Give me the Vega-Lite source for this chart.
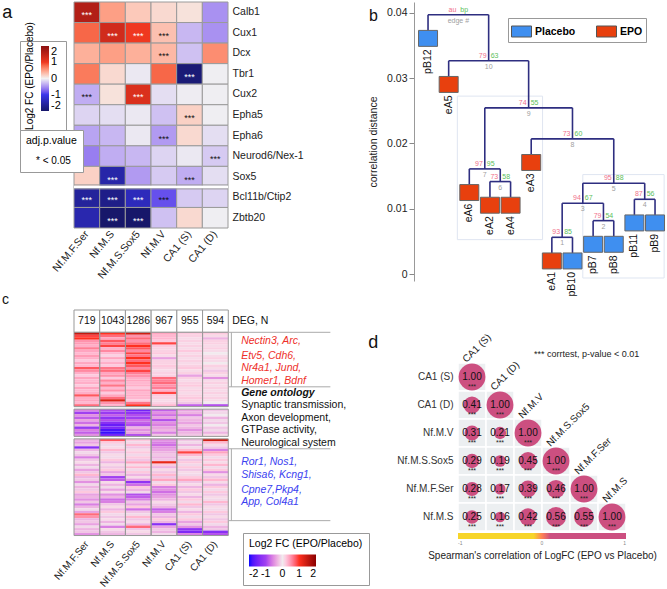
{
"$schema":"https://vega.github.io/schema/vega-lite/v6.json",
"padding":{"left":2,"top":1,"right":0,"bottom":0},
"columns":2,"align":"each","bounds":"flush","spacing":{"row":29,"column":142},
"resolve":{"scale":{"color":"independent","fill":"independent","shape":"independent","size":"independent"}},
"config":{"font":"Liberation Sans","view":{"stroke":null},"title":{"fontWeight":"normal","color":"#111"}},
"datasets":{
"aCells":[
{"g":"Calb1","c":"Nf.M.F.Ser","v":1.6,"p":"* < 0.05"},{"g":"Calb1","c":"Nf.M.S","v":0.5},{"g":"Calb1","c":"Nf.M.S.Sox5","v":0.25},{"g":"Calb1","c":"Nf.M.V","v":0.15},{"g":"Calb1","c":"CA1 (S)","v":0.1},{"g":"Calb1","c":"CA1 (D)","v":-0.5},
{"g":"Cux1","c":"Nf.M.F.Ser","v":0.8},{"g":"Cux1","c":"Nf.M.S","v":1.3,"p":"* < 0.05"},{"g":"Cux1","c":"Nf.M.S.Sox5","v":1.0,"p":"* < 0.05"},{"g":"Cux1","c":"Nf.M.V","v":0.3,"p":"* < 0.05"},{"g":"Cux1","c":"CA1 (S)","v":-0.3},{"g":"Cux1","c":"CA1 (D)","v":-0.5},
{"g":"Dcx","c":"Nf.M.F.Ser","v":0.4},{"g":"Dcx","c":"Nf.M.S","v":0.5},{"g":"Dcx","c":"Nf.M.S.Sox5","v":0.4},{"g":"Dcx","c":"Nf.M.V","v":0.35,"p":"* < 0.05"},{"g":"Dcx","c":"CA1 (S)","v":-0.25},{"g":"Dcx","c":"CA1 (D)","v":0.6},
{"g":"Tbr1","c":"Nf.M.F.Ser","v":0.7},{"g":"Tbr1","c":"Nf.M.S","v":0.15},{"g":"Tbr1","c":"Nf.M.S.Sox5","v":-0.05},{"g":"Tbr1","c":"Nf.M.V","v":0.8},{"g":"Tbr1","c":"CA1 (S)","v":-1.9,"p":"* < 0.05"},{"g":"Tbr1","c":"CA1 (D)","v":-0.02},
{"g":"Cux2","c":"Nf.M.F.Ser","v":-0.35,"p":"* < 0.05"},{"g":"Cux2","c":"Nf.M.S","v":0.1},{"g":"Cux2","c":"Nf.M.S.Sox5","v":1.2,"p":"* < 0.05"},{"g":"Cux2","c":"Nf.M.V","v":-0.1},{"g":"Cux2","c":"CA1 (S)","v":-0.03},{"g":"Cux2","c":"CA1 (D)","v":-0.02},
{"g":"Epha5","c":"Nf.M.F.Ser","v":-0.15},{"g":"Epha5","c":"Nf.M.S","v":-0.1},{"g":"Epha5","c":"Nf.M.S.Sox5","v":-0.05},{"g":"Epha5","c":"Nf.M.V","v":-0.25},{"g":"Epha5","c":"CA1 (S)","v":0.2,"p":"* < 0.05"},{"g":"Epha5","c":"CA1 (D)","v":-0.02},
{"g":"Epha6","c":"Nf.M.F.Ser","v":-0.4},{"g":"Epha6","c":"Nf.M.S","v":-0.3},{"g":"Epha6","c":"Nf.M.S.Sox5","v":-0.05},{"g":"Epha6","c":"Nf.M.V","v":-0.45,"p":"* < 0.05"},{"g":"Epha6","c":"CA1 (S)","v":0.15},{"g":"Epha6","c":"CA1 (D)","v":-0.1},
{"g":"Neurod6/Nex-1","c":"Nf.M.F.Ser","v":-0.6},{"g":"Neurod6/Nex-1","c":"Nf.M.S","v":-0.35},{"g":"Neurod6/Nex-1","c":"Nf.M.S.Sox5","v":-0.3},{"g":"Neurod6/Nex-1","c":"Nf.M.V","v":-0.15},{"g":"Neurod6/Nex-1","c":"CA1 (S)","v":-0.05},{"g":"Neurod6/Nex-1","c":"CA1 (D)","v":-0.2,"p":"* < 0.05"},
{"g":"Sox5","c":"Nf.M.F.Ser","v":0.2},{"g":"Sox5","c":"Nf.M.S","v":-1.5,"p":"* < 0.05"},{"g":"Sox5","c":"Nf.M.S.Sox5","v":-0.45},{"g":"Sox5","c":"Nf.M.V","v":-0.2},{"g":"Sox5","c":"CA1 (S)","v":-0.35,"p":"* < 0.05"},{"g":"Sox5","c":"CA1 (D)","v":-0.1},
{"g":"Bcl11b/Ctip2","c":"Nf.M.F.Ser","v":-1.6,"p":"* < 0.05"},{"g":"Bcl11b/Ctip2","c":"Nf.M.S","v":-1.75,"p":"* < 0.05"},{"g":"Bcl11b/Ctip2","c":"Nf.M.S.Sox5","v":-1.35,"p":"* < 0.05"},{"g":"Bcl11b/Ctip2","c":"Nf.M.V","v":-0.85,"p":"* < 0.05"},{"g":"Bcl11b/Ctip2","c":"CA1 (S)","v":-0.2},{"g":"Bcl11b/Ctip2","c":"CA1 (D)","v":-0.15},
{"g":"Zbtb20","c":"Nf.M.F.Ser","v":-1.45},{"g":"Zbtb20","c":"Nf.M.S","v":-2.1,"p":"* < 0.05"},{"g":"Zbtb20","c":"Nf.M.S.Sox5","v":-2.4,"p":"* < 0.05"},{"g":"Zbtb20","c":"Nf.M.V","v":-0.25},{"g":"Zbtb20","c":"CA1 (S)","v":0.15},{"g":"Zbtb20","c":"CA1 (D)","v":-0.02}
],
"cols":[{"k":1,"name":"Nf.M.F.Ser","deg":719},{"k":2,"name":"Nf.M.S","deg":1043},{"k":3,"name":"Nf.M.S.Sox5","deg":1286},{"k":4,"name":"Nf.M.V","deg":967},{"k":5,"name":"CA1 (S)","deg":955},{"k":6,"name":"CA1 (D)","deg":594}],
"outl":[
{"c":1,"r":"b01","r2":"b31"},{"c":2,"r":"b01","r2":"b31"},{"c":3,"r":"b01","r2":"b31"},{"c":4,"r":"b01","r2":"b31"},{"c":5,"r":"b01","r2":"b31"},{"c":6,"r":"b01","r2":"b31"},
{"c":1,"r":"b32","r2":"b43"},{"c":2,"r":"b32","r2":"b43"},{"c":3,"r":"b32","r2":"b43"},{"c":4,"r":"b32","r2":"b43"},{"c":5,"r":"b32","r2":"b43"},{"c":6,"r":"b32","r2":"b43"},
{"c":1,"r":"b44","r2":"b83"},{"c":2,"r":"b44","r2":"b83"},{"c":3,"r":"b44","r2":"b83"},{"c":4,"r":"b44","r2":"b83"},{"c":5,"r":"b44","r2":"b83"},{"c":6,"r":"b44","r2":"b83"}
],
"ann":[
{"r":"b04","t":"Nectin3, Arc,","k":"up"},{"r":"b10","t":"Etv5, Cdh6,","k":"up"},{"r":"b15","t":"Nr4a1, Jund,","k":"up"},{"r":"b20","t":"Homer1, Bdnf","k":"up"},
{"r":"b25","t":"Gene ontology","k":"go"},
{"r":"b30","t":"Synaptic transmission,","k":"term"},{"r":"b35","t":"Axon development,","k":"term"},{"r":"b40","t":"GTPase activity,","k":"term"},{"r":"b45","t":"Neurological system","k":"term"},
{"r":"b53","t":"Ror1, Nos1,","k":"down"},{"r":"b58","t":"Shisa6, Kcng1,","k":"down"},{"r":"b64","t":"Cpne7,Pkp4,","k":"down"},{"r":"b69","t":"App, Col4a1","k":"down"}
],
"cells":[
{"r":"b01","c":1,"v":1.5},{"r":"b01","c":2,"v":1.0},{"r":"b01","c":3,"v":1.4},{"r":"b01","c":4,"v":0.4},{"r":"b01","c":5,"v":0.2},{"r":"b01","c":6,"v":0.2},
{"r":"b02","c":1,"v":0.9},{"r":"b02","c":2,"v":0.7},{"r":"b02","c":3,"v":0.5},{"r":"b02","c":4,"v":0.3},{"r":"b02","c":5,"v":0.15},{"r":"b02","c":6,"v":0.1},
{"r":"b03","c":1,"v":1.0},{"r":"b03","c":2,"v":0.4},{"r":"b03","c":3,"v":0.7},{"r":"b03","c":4,"v":0.3},{"r":"b03","c":5,"v":0.1},{"r":"b03","c":6,"v":-0.3},
{"r":"b04","c":1,"v":0.5},{"r":"b04","c":2,"v":0.8},{"r":"b04","c":3,"v":0.5},{"r":"b04","c":4,"v":0.2},{"r":"b04","c":5,"v":0.15},{"r":"b04","c":6,"v":0.15},
{"r":"b05","c":1,"v":0.45},{"r":"b05","c":2,"v":0.6},{"r":"b05","c":3,"v":0.7},{"r":"b05","c":4,"v":0.9},{"r":"b05","c":5,"v":0.1},{"r":"b05","c":6,"v":0.15},
{"r":"b06","c":1,"v":0.35},{"r":"b06","c":2,"v":0.9},{"r":"b06","c":3,"v":1.0},{"r":"b06","c":4,"v":0.2},{"r":"b06","c":5,"v":0.15},{"r":"b06","c":6,"v":0.1},
{"r":"b07","c":1,"v":0.6},{"r":"b07","c":2,"v":0.35},{"r":"b07","c":3,"v":0.8},{"r":"b07","c":4,"v":0.15},{"r":"b07","c":5,"v":0.1},{"r":"b07","c":6,"v":0.15},
{"r":"b08","c":1,"v":0.4},{"r":"b08","c":2,"v":0.55},{"r":"b08","c":3,"v":0.55},{"r":"b08","c":4,"v":0.15},{"r":"b08","c":5,"v":0.2},{"r":"b08","c":6,"v":0.1},
{"r":"b09","c":1,"v":0.3},{"r":"b09","c":2,"v":0.3},{"r":"b09","c":3,"v":0.9},{"r":"b09","c":4,"v":0.2},{"r":"b09","c":5,"v":0.1},{"r":"b09","c":6,"v":0.0},
{"r":"b10","c":1,"v":0.45},{"r":"b10","c":2,"v":0.15},{"r":"b10","c":3,"v":0.65},{"r":"b10","c":4,"v":0.1},{"r":"b10","c":5,"v":0.15},{"r":"b10","c":6,"v":0.1},
{"r":"b11","c":1,"v":0.35},{"r":"b11","c":2,"v":0.4},{"r":"b11","c":3,"v":1.0},{"r":"b11","c":4,"v":-0.4},{"r":"b11","c":5,"v":0.1},{"r":"b11","c":6,"v":0.15},
{"r":"b12","c":1,"v":0.2},{"r":"b12","c":2,"v":0.2},{"r":"b12","c":3,"v":0.7},{"r":"b12","c":4,"v":0.15},{"r":"b12","c":5,"v":0.15},{"r":"b12","c":6,"v":0.1},
{"r":"b13","c":1,"v":0.4},{"r":"b13","c":2,"v":0.35},{"r":"b13","c":3,"v":1.0},{"r":"b13","c":4,"v":0.15},{"r":"b13","c":5,"v":0.1},{"r":"b13","c":6,"v":0.0},
{"r":"b14","c":1,"v":0.3},{"r":"b14","c":2,"v":0.2},{"r":"b14","c":3,"v":0.8},{"r":"b14","c":4,"v":0.2},{"r":"b14","c":5,"v":0.15},{"r":"b14","c":6,"v":0.15},
{"r":"b15","c":1,"v":0.8},{"r":"b15","c":2,"v":0.65},{"r":"b15","c":3,"v":0.55},{"r":"b15","c":4,"v":0.15},{"r":"b15","c":5,"v":0.2},{"r":"b15","c":6,"v":0.1},
{"r":"b16","c":1,"v":0.55},{"r":"b16","c":2,"v":0.7},{"r":"b16","c":3,"v":0.9},{"r":"b16","c":4,"v":0.1},{"r":"b16","c":5,"v":0.1},{"r":"b16","c":6,"v":-0.2},
{"r":"b17","c":1,"v":0.35},{"r":"b17","c":2,"v":0.4},{"r":"b17","c":3,"v":0.6},{"r":"b17","c":4,"v":0.15},{"r":"b17","c":5,"v":0.15},{"r":"b17","c":6,"v":0.15},
{"r":"b18","c":1,"v":0.2},{"r":"b18","c":2,"v":0.5},{"r":"b18","c":3,"v":0.5},{"r":"b18","c":4,"v":0.15},{"r":"b18","c":5,"v":-0.4},{"r":"b18","c":6,"v":0.1},
{"r":"b19","c":1,"v":0.4},{"r":"b19","c":2,"v":0.2},{"r":"b19","c":3,"v":0.35},{"r":"b19","c":4,"v":0.7},{"r":"b19","c":5,"v":0.15},{"r":"b19","c":6,"v":-0.5},
{"r":"b20","c":1,"v":0.3},{"r":"b20","c":2,"v":0.55},{"r":"b20","c":3,"v":0.4},{"r":"b20","c":4,"v":0.6},{"r":"b20","c":5,"v":0.1},{"r":"b20","c":6,"v":0.1},
{"r":"b21","c":1,"v":0.35},{"r":"b21","c":2,"v":0.35},{"r":"b21","c":3,"v":0.3},{"r":"b21","c":4,"v":0.7},{"r":"b21","c":5,"v":0.15},{"r":"b21","c":6,"v":0.15},
{"r":"b22","c":1,"v":0.2},{"r":"b22","c":2,"v":0.65},{"r":"b22","c":3,"v":0.35},{"r":"b22","c":4,"v":0.5},{"r":"b22","c":5,"v":0.2},{"r":"b22","c":6,"v":0.1},
{"r":"b23","c":1,"v":0.4},{"r":"b23","c":2,"v":0.3},{"r":"b23","c":3,"v":0.2},{"r":"b23","c":4,"v":0.6},{"r":"b23","c":5,"v":0.1},{"r":"b23","c":6,"v":0.15},
{"r":"b24","c":1,"v":0.3},{"r":"b24","c":2,"v":0.5},{"r":"b24","c":3,"v":0.4},{"r":"b24","c":4,"v":0.35},{"r":"b24","c":5,"v":0.15},{"r":"b24","c":6,"v":0.1},
{"r":"b25","c":1,"v":0.35},{"r":"b25","c":2,"v":0.2},{"r":"b25","c":3,"v":0.3},{"r":"b25","c":4,"v":0.9},{"r":"b25","c":5,"v":0.1},{"r":"b25","c":6,"v":0.15},
{"r":"b26","c":1,"v":0.8},{"r":"b26","c":2,"v":0.4},{"r":"b26","c":3,"v":0.35},{"r":"b26","c":4,"v":0.2},{"r":"b26","c":5,"v":0.15},{"r":"b26","c":6,"v":0.1},
{"r":"b27","c":1,"v":0.35},{"r":"b27","c":2,"v":0.7},{"r":"b27","c":3,"v":0.3},{"r":"b27","c":4,"v":0.15},{"r":"b27","c":5,"v":0.2},{"r":"b27","c":6,"v":0.15},
{"r":"b28","c":1,"v":0.4},{"r":"b28","c":2,"v":1.3},{"r":"b28","c":3,"v":0.2},{"r":"b28","c":4,"v":0.1},{"r":"b28","c":5,"v":0.15},{"r":"b28","c":6,"v":0.1},
{"r":"b29","c":1,"v":0.3},{"r":"b29","c":2,"v":0.5},{"r":"b29","c":3,"v":0.65},{"r":"b29","c":4,"v":0.15},{"r":"b29","c":5,"v":-0.2},{"r":"b29","c":6,"v":0.0},
{"r":"b30","c":1,"v":0.7},{"r":"b30","c":2,"v":0.35},{"r":"b30","c":3,"v":1.0},{"r":"b30","c":4,"v":0.3},{"r":"b30","c":5,"v":-0.8},{"r":"b30","c":6,"v":-0.9},
{"r":"b32","c":1,"v":-0.6},{"r":"b32","c":2,"v":-0.9},{"r":"b32","c":3,"v":-1.5},{"r":"b32","c":4,"v":-0.8},{"r":"b32","c":5,"v":-0.4},{"r":"b32","c":6,"v":-0.2},
{"r":"b33","c":1,"v":-1.0},{"r":"b33","c":2,"v":-1.1},{"r":"b33","c":3,"v":-1.2},{"r":"b33","c":4,"v":-0.5},{"r":"b33","c":5,"v":-0.3},{"r":"b33","c":6,"v":-0.1},
{"r":"b34","c":1,"v":-0.5},{"r":"b34","c":2,"v":-0.8},{"r":"b34","c":3,"v":-0.9},{"r":"b34","c":4,"v":-0.7},{"r":"b34","c":5,"v":-0.6},{"r":"b34","c":6,"v":0.0},
{"r":"b35","c":1,"v":-0.8},{"r":"b35","c":2,"v":-1.2},{"r":"b35","c":3,"v":-1.0},{"r":"b35","c":4,"v":-0.4},{"r":"b35","c":5,"v":-0.2},{"r":"b35","c":6,"v":-0.3},
{"r":"b36","c":1,"v":-0.4},{"r":"b36","c":2,"v":-0.9},{"r":"b36","c":3,"v":-0.7},{"r":"b36","c":4,"v":-0.9},{"r":"b36","c":5,"v":-0.3},{"r":"b36","c":6,"v":-0.1},
{"r":"b37","c":1,"v":-0.7},{"r":"b37","c":2,"v":-1.3},{"r":"b37","c":3,"v":-0.8},{"r":"b37","c":4,"v":-0.5},{"r":"b37","c":5,"v":-0.4},{"r":"b37","c":6,"v":-0.2},
{"r":"b38","c":1,"v":-0.3},{"r":"b38","c":2,"v":-1.6},{"r":"b38","c":3,"v":-0.9},{"r":"b38","c":4,"v":-0.6},{"r":"b38","c":5,"v":-0.2},{"r":"b38","c":6,"v":0.0},
{"r":"b39","c":1,"v":-1.1},{"r":"b39","c":2,"v":-1.4},{"r":"b39","c":3,"v":-0.3},{"r":"b39","c":4,"v":-0.4},{"r":"b39","c":5,"v":-0.3},{"r":"b39","c":6,"v":-0.2},
{"r":"b40","c":1,"v":-0.6},{"r":"b40","c":2,"v":-1.8},{"r":"b40","c":3,"v":-0.5},{"r":"b40","c":4,"v":-0.3},{"r":"b40","c":5,"v":-0.5},{"r":"b40","c":6,"v":-0.1},
{"r":"b41","c":1,"v":-0.8},{"r":"b41","c":2,"v":-1.9},{"r":"b41","c":3,"v":-0.4},{"r":"b41","c":4,"v":-0.6},{"r":"b41","c":5,"v":-0.3},{"r":"b41","c":6,"v":-0.3},
{"r":"b42","c":1,"v":-0.5},{"r":"b42","c":2,"v":-1.5},{"r":"b42","c":3,"v":-0.9},{"r":"b42","c":4,"v":-0.2},{"r":"b42","c":5,"v":-0.2},{"r":"b42","c":6,"v":0.1},
{"r":"b44","c":1,"v":-0.3},{"r":"b44","c":2,"v":0.8},{"r":"b44","c":3,"v":0.2},{"r":"b44","c":4,"v":-0.5},{"r":"b44","c":5,"v":-0.2},{"r":"b44","c":6,"v":1.4},
{"r":"b45","c":1,"v":-0.4},{"r":"b45","c":2,"v":0.2},{"r":"b45","c":3,"v":-0.1},{"r":"b45","c":4,"v":-0.6},{"r":"b45","c":5,"v":-0.1},{"r":"b45","c":6,"v":0.3},
{"r":"b46","c":1,"v":-0.2},{"r":"b46","c":2,"v":-0.1},{"r":"b46","c":3,"v":0.3},{"r":"b46","c":4,"v":-0.7},{"r":"b46","c":5,"v":-0.3},{"r":"b46","c":6,"v":0.1},
{"r":"b47","c":1,"v":-1.3},{"r":"b47","c":2,"v":0.1},{"r":"b47","c":3,"v":-0.2},{"r":"b47","c":4,"v":-0.5},{"r":"b47","c":5,"v":-0.1},{"r":"b47","c":6,"v":-0.2},
{"r":"b48","c":1,"v":-0.3},{"r":"b48","c":2,"v":0.3},{"r":"b48","c":3,"v":0.1},{"r":"b48","c":4,"v":-0.4},{"r":"b48","c":5,"v":0.3},{"r":"b48","c":6,"v":-0.6},
{"r":"b49","c":1,"v":-0.1},{"r":"b49","c":2,"v":-0.2},{"r":"b49","c":3,"v":0.2},{"r":"b49","c":4,"v":-0.3},{"r":"b49","c":5,"v":0.9},{"r":"b49","c":6,"v":0.4},
{"r":"b50","c":1,"v":-0.2},{"r":"b50","c":2,"v":0.1},{"r":"b50","c":3,"v":-0.1},{"r":"b50","c":4,"v":-0.2},{"r":"b50","c":5,"v":0.3},{"r":"b50","c":6,"v":0.2},
{"r":"b51","c":1,"v":-0.6},{"r":"b51","c":2,"v":-0.1},{"r":"b51","c":3,"v":0.2},{"r":"b51","c":4,"v":-0.3},{"r":"b51","c":5,"v":0.1},{"r":"b51","c":6,"v":-0.1},
{"r":"b52","c":1,"v":-0.2},{"r":"b52","c":2,"v":0.2},{"r":"b52","c":3,"v":-0.2},{"r":"b52","c":4,"v":-0.2},{"r":"b52","c":5,"v":-0.2},{"r":"b52","c":6,"v":0.2},
{"r":"b53","c":1,"v":0.1},{"r":"b53","c":2,"v":-0.3},{"r":"b53","c":3,"v":0.4},{"r":"b53","c":4,"v":1.2},{"r":"b53","c":5,"v":0.2},{"r":"b53","c":6,"v":0.1},
{"r":"b54","c":1,"v":-0.3},{"r":"b54","c":2,"v":0.1},{"r":"b54","c":3,"v":0.1},{"r":"b54","c":4,"v":0.2},{"r":"b54","c":5,"v":-0.1},{"r":"b54","c":6,"v":0.3},
{"r":"b55","c":1,"v":-0.1},{"r":"b55","c":2,"v":-0.2},{"r":"b55","c":3,"v":0.3},{"r":"b55","c":4,"v":-0.3},{"r":"b55","c":5,"v":0.2},{"r":"b55","c":6,"v":-0.1},
{"r":"b56","c":1,"v":-0.4},{"r":"b56","c":2,"v":0.2},{"r":"b56","c":3,"v":-0.1},{"r":"b56","c":4,"v":0.1},{"r":"b56","c":5,"v":-0.2},{"r":"b56","c":6,"v":0.2},
{"r":"b57","c":1,"v":-0.2},{"r":"b57","c":2,"v":-0.4},{"r":"b57","c":3,"v":0.2},{"r":"b57","c":4,"v":-0.2},{"r":"b57","c":5,"v":0.1},{"r":"b57","c":6,"v":-0.5},
{"r":"b58","c":1,"v":0.3},{"r":"b58","c":2,"v":-0.2},{"r":"b58","c":3,"v":-0.3},{"r":"b58","c":4,"v":0.3},{"r":"b58","c":5,"v":-0.1},{"r":"b58","c":6,"v":0.1},
{"r":"b59","c":1,"v":-0.3},{"r":"b59","c":2,"v":-1.0},{"r":"b59","c":3,"v":0.1},{"r":"b59","c":4,"v":-0.2},{"r":"b59","c":5,"v":0.2},{"r":"b59","c":6,"v":-0.2},
{"r":"b60","c":1,"v":-0.2},{"r":"b60","c":2,"v":-0.8},{"r":"b60","c":3,"v":-0.4},{"r":"b60","c":4,"v":0.4},{"r":"b60","c":5,"v":0.4},{"r":"b60","c":6,"v":0.3},
{"r":"b61","c":1,"v":-0.5},{"r":"b61","c":2,"v":0.1},{"r":"b61","c":3,"v":-1.2},{"r":"b61","c":4,"v":-0.1},{"r":"b61","c":5,"v":-0.2},{"r":"b61","c":6,"v":0.1},
{"r":"b62","c":1,"v":-0.1},{"r":"b62","c":2,"v":-0.3},{"r":"b62","c":3,"v":-0.7},{"r":"b62","c":4,"v":0.2},{"r":"b62","c":5,"v":0.1},{"r":"b62","c":6,"v":-0.3},
{"r":"b63","c":1,"v":-0.3},{"r":"b63","c":2,"v":-0.1},{"r":"b63","c":3,"v":0.2},{"r":"b63","c":4,"v":-0.6},{"r":"b63","c":5,"v":-0.3},{"r":"b63","c":6,"v":0.2},
{"r":"b64","c":1,"v":-0.2},{"r":"b64","c":2,"v":-0.4},{"r":"b64","c":3,"v":-0.3},{"r":"b64","c":4,"v":-0.5},{"r":"b64","c":5,"v":0.2},{"r":"b64","c":6,"v":-0.1},
{"r":"b65","c":1,"v":0.2},{"r":"b65","c":2,"v":0.1},{"r":"b65","c":3,"v":-0.1},{"r":"b65","c":4,"v":-0.7},{"r":"b65","c":5,"v":-0.2},{"r":"b65","c":6,"v":0.2},
{"r":"b66","c":1,"v":-0.4},{"r":"b66","c":2,"v":-0.5},{"r":"b66","c":3,"v":-0.9},{"r":"b66","c":4,"v":-0.5},{"r":"b66","c":5,"v":0.1},{"r":"b66","c":6,"v":-0.2},
{"r":"b67","c":1,"v":-0.3},{"r":"b67","c":2,"v":-0.3},{"r":"b67","c":3,"v":-0.8},{"r":"b67","c":4,"v":-0.4},{"r":"b67","c":5,"v":-0.3},{"r":"b67","c":6,"v":0.1},
{"r":"b68","c":1,"v":-0.5},{"r":"b68","c":2,"v":-0.7},{"r":"b68","c":3,"v":-0.6},{"r":"b68","c":4,"v":-0.3},{"r":"b68","c":5,"v":0.2},{"r":"b68","c":6,"v":-0.1},
{"r":"b69","c":1,"v":-0.2},{"r":"b69","c":2,"v":-0.6},{"r":"b69","c":3,"v":-0.2},{"r":"b69","c":4,"v":0.1},{"r":"b69","c":5,"v":-0.1},{"r":"b69","c":6,"v":0.3},
{"r":"b70","c":1,"v":-0.6},{"r":"b70","c":2,"v":-0.2},{"r":"b70","c":3,"v":-0.4},{"r":"b70","c":4,"v":-0.2},{"r":"b70","c":5,"v":0.3},{"r":"b70","c":6,"v":-0.2},
{"r":"b71","c":1,"v":-0.3},{"r":"b71","c":2,"v":0.1},{"r":"b71","c":3,"v":0.2},{"r":"b71","c":4,"v":-0.3},{"r":"b71","c":5,"v":-0.2},{"r":"b71","c":6,"v":0.1},
{"r":"b72","c":1,"v":-0.1},{"r":"b72","c":2,"v":-0.3},{"r":"b72","c":3,"v":-0.7},{"r":"b72","c":4,"v":-0.8},{"r":"b72","c":5,"v":0.1},{"r":"b72","c":6,"v":-0.1},
{"r":"b73","c":1,"v":-0.4},{"r":"b73","c":2,"v":0.2},{"r":"b73","c":3,"v":-0.2},{"r":"b73","c":4,"v":-0.6},{"r":"b73","c":5,"v":-0.3},{"r":"b73","c":6,"v":0.2},
{"r":"b74","c":1,"v":0.7},{"r":"b74","c":2,"v":-0.1},{"r":"b74","c":3,"v":-0.1},{"r":"b74","c":4,"v":-0.2},{"r":"b74","c":5,"v":0.2},{"r":"b74","c":6,"v":-0.2},
{"r":"b75","c":1,"v":0.5},{"r":"b75","c":2,"v":-0.2},{"r":"b75","c":3,"v":0.3},{"r":"b75","c":4,"v":-0.3},{"r":"b75","c":5,"v":-0.1},{"r":"b75","c":6,"v":0.1},
{"r":"b76","c":1,"v":-0.3},{"r":"b76","c":2,"v":0.1},{"r":"b76","c":3,"v":-0.2},{"r":"b76","c":4,"v":0.2},{"r":"b76","c":5,"v":0.2},{"r":"b76","c":6,"v":-0.2},
{"r":"b77","c":1,"v":-0.2},{"r":"b77","c":2,"v":-0.3},{"r":"b77","c":3,"v":0.1},{"r":"b77","c":4,"v":-0.3},{"r":"b77","c":5,"v":-0.4},{"r":"b77","c":6,"v":0.2},
{"r":"b78","c":1,"v":-0.4},{"r":"b78","c":2,"v":-0.1},{"r":"b78","c":3,"v":-0.3},{"r":"b78","c":4,"v":-1.3},{"r":"b78","c":5,"v":-0.2},{"r":"b78","c":6,"v":-0.1},
{"r":"b79","c":1,"v":-0.1},{"r":"b79","c":2,"v":-0.6},{"r":"b79","c":3,"v":0.7},{"r":"b79","c":4,"v":-0.4},{"r":"b79","c":5,"v":-0.5},{"r":"b79","c":6,"v":-0.3},
{"r":"b80","c":1,"v":-0.3},{"r":"b80","c":2,"v":0.1},{"r":"b80","c":3,"v":-0.2},{"r":"b80","c":4,"v":-0.2},{"r":"b80","c":5,"v":-1.2},{"r":"b80","c":6,"v":-0.2},
{"r":"b81","c":1,"v":-0.2},{"r":"b81","c":2,"v":-0.2},{"r":"b81","c":3,"v":0.1},{"r":"b81","c":4,"v":-0.3},{"r":"b81","c":5,"v":-1.4},{"r":"b81","c":6,"v":-1.3},
{"r":"b82","c":1,"v":-0.5},{"r":"b82","c":2,"v":-0.3},{"r":"b82","c":3,"v":-0.2},{"r":"b82","c":4,"v":-0.1},{"r":"b82","c":5,"v":-0.6},{"r":"b82","c":6,"v":-0.9}
],
"leaves":[
{"leaf":"pB12","x":1,"y":0.03607,"grp":"Placebo"},{"leaf":"eA5","x":2,"y":0.02902,"grp":"EPO"},{"leaf":"eA6","x":3,"y":0.01247,"grp":"EPO"},{"leaf":"eA2","x":4,"y":0.01053,"grp":"EPO"},{"leaf":"eA4","x":5,"y":0.01053,"grp":"EPO"},{"leaf":"eA3","x":6,"y":0.01707,"grp":"EPO"},{"leaf":"eA1","x":7,"y":0.002,"grp":"EPO"},{"leaf":"pB10","x":8,"y":0.002,"grp":"Placebo"},{"leaf":"pB7","x":9,"y":0.00455,"grp":"Placebo"},{"leaf":"pB8","x":10,"y":0.00455,"grp":"Placebo"},{"leaf":"pB11","x":11,"y":0.00782,"grp":"Placebo"},{"leaf":"pB9","x":12,"y":0.00782,"grp":"Placebo"}
],
"segs":[
{"x":7,"x2":8,"y":0.00562,"y2":0.00562},{"x":7,"x2":7,"y":0.00562,"y2":0.00322},{"x":8,"x2":8,"y":0.00562,"y2":0.00322},
{"x":9,"x2":10,"y":0.00817,"y2":0.00817},{"x":9,"x2":9,"y":0.00817,"y2":0.00577},{"x":10,"x2":10,"y":0.00817,"y2":0.00577},
{"x":7.5,"x2":9.5,"y":0.01083,"y2":0.01083},{"x":7.5,"x2":7.5,"y":0.01083,"y2":0.00562},{"x":9.5,"x2":9.5,"y":0.01083,"y2":0.00817},
{"x":11,"x2":12,"y":0.01144,"y2":0.01144},{"x":11,"x2":11,"y":0.01144,"y2":0.00904},{"x":12,"x2":12,"y":0.01144,"y2":0.00904},
{"x":8.5,"x2":11.5,"y":0.0139,"y2":0.0139},{"x":8.5,"x2":8.5,"y":0.0139,"y2":0.01083},{"x":11.5,"x2":11.5,"y":0.0139,"y2":0.01144},
{"x":4,"x2":5,"y":0.01415,"y2":0.01415},{"x":4,"x2":4,"y":0.01415,"y2":0.01175},{"x":5,"x2":5,"y":0.01415,"y2":0.01175},
{"x":3,"x2":4.5,"y":0.01609,"y2":0.01609},{"x":3,"x2":3,"y":0.01609,"y2":0.01369},{"x":4.5,"x2":4.5,"y":0.01609,"y2":0.01415},
{"x":6,"x2":10,"y":0.02069,"y2":0.02069},{"x":6,"x2":6,"y":0.02069,"y2":0.01829},{"x":10,"x2":10,"y":0.02069,"y2":0.0139},
{"x":3.75,"x2":8,"y":0.02544,"y2":0.02544},{"x":3.75,"x2":3.75,"y":0.02544,"y2":0.01609},{"x":8,"x2":8,"y":0.02544,"y2":0.02069},
{"x":2,"x2":5.875,"y":0.03264,"y2":0.03264},{"x":2,"x2":2,"y":0.03264,"y2":0.03024},{"x":5.875,"x2":5.875,"y":0.03264,"y2":0.02544},
{"x":1,"x2":3.9375,"y":0.03969,"y2":0.03969},{"x":1,"x2":1,"y":0.03969,"y2":0.03729},{"x":3.9375,"x2":3.9375,"y":0.03969,"y2":0.03264}
],
"nodes":[
{"x":7.5,"y":0.00562,"au":"93","bp":"85","e":"1"},{"x":9.5,"y":0.00817,"au":"79","bp":"54","e":"2"},{"x":8.5,"y":0.01083,"au":"94","bp":"67","e":"3"},{"x":11.5,"y":0.01144,"au":"87","bp":"56","e":"4"},{"x":10,"y":0.0139,"au":"95","bp":"88","e":"5"},{"x":4.5,"y":0.01415,"au":"73","bp":"58","e":"6"},{"x":3.75,"y":0.01609,"au":"97","bp":"95","e":"7"},{"x":8,"y":0.02069,"au":"73","bp":"60","e":"8"},{"x":5.875,"y":0.02544,"au":"74","bp":"55","e":"9"},{"x":3.9375,"y":0.03264,"au":"79","bp":"63","e":"10"},{"x":2.46875,"y":0.03969,"au":"au","bp":"bp","e":"edge #"}
],
"pv":[{"x":2.42,"x2":6.55,"y":0.02723,"y2":0.00526},{"x":8.5,"x2":12.44,"y":0.01522,"y2":-0.00061}],
"corr":[
{"row":"CA1 (S)","col":"CA1 (S)","r":1.0},
{"row":"CA1 (D)","col":"CA1 (S)","r":0.41},{"row":"CA1 (D)","col":"CA1 (D)","r":1.0},
{"row":"Nf.M.V","col":"CA1 (S)","r":0.31},{"row":"Nf.M.V","col":"CA1 (D)","r":0.21},{"row":"Nf.M.V","col":"Nf.M.V","r":1.0},
{"row":"Nf.M.S.Sox5","col":"CA1 (S)","r":0.29},{"row":"Nf.M.S.Sox5","col":"CA1 (D)","r":0.19},{"row":"Nf.M.S.Sox5","col":"Nf.M.V","r":0.45},{"row":"Nf.M.S.Sox5","col":"Nf.M.S.Sox5","r":1.0},
{"row":"Nf.M.F.Ser","col":"CA1 (S)","r":0.28},{"row":"Nf.M.F.Ser","col":"CA1 (D)","r":0.17},{"row":"Nf.M.F.Ser","col":"Nf.M.V","r":0.39},{"row":"Nf.M.F.Ser","col":"Nf.M.S.Sox5","r":0.46},{"row":"Nf.M.F.Ser","col":"Nf.M.F.Ser","r":1.0},
{"row":"Nf.M.S","col":"CA1 (S)","r":0.25},{"row":"Nf.M.S","col":"CA1 (D)","r":0.16},{"row":"Nf.M.S","col":"Nf.M.V","r":0.42},{"row":"Nf.M.S","col":"Nf.M.S.Sox5","r":0.56},{"row":"Nf.M.S","col":"Nf.M.F.Ser","r":0.55},{"row":"Nf.M.S","col":"Nf.M.S","r":1.0}
],
"dnames":[{"col":"CA1 (S)","row":"CA1 (S)"},{"col":"CA1 (D)","row":"CA1 (D)"},{"col":"Nf.M.V","row":"Nf.M.V"},{"col":"Nf.M.S.Sox5","row":"Nf.M.S.Sox5"},{"col":"Nf.M.F.Ser","row":"Nf.M.F.Ser"},{"col":"Nf.M.S","row":"Nf.M.S"}]
},
"concat":[
{
"width":154,"height":226,
"data":{"name":"aCells"},
"encoding":{
"x":{"field":"c","type":"nominal","sort":["Nf.M.F.Ser","Nf.M.S","Nf.M.S.Sox5","Nf.M.V","CA1 (S)","CA1 (D)"],"axis":{"title":null,"labelAngle":-50,"labelAlign":"right","labelBaseline":"middle","ticks":false,"domain":false,"labelFontSize":10.5,"labelPadding":4,"labelColor":"#222"}},
"y":{"field":"g","type":"nominal","sort":["Calb1","Cux1","Dcx","Tbr1","Cux2","Epha5","Epha6","Neurod6/Nex-1","Sox5","Bcl11b/Ctip2","Zbtb20"],"axis":{"orient":"right","title":null,"ticks":false,"domain":false,"labelFontSize":10.5,"labelPadding":4,"labelColor":"#222"}}
},
"layer":[
{"mark":{"type":"rect","stroke":"#9a9a9a","strokeWidth":1},
 "encoding":{"color":{"field":"v","type":"quantitative","scale":{"domain":[-2,-1,0,1,2],"range":["#17176a","#3b35ea","#f2f2f2","#ef3820","#8b1010"],"clamp":true},
 "legend":{"orient":"none","legendX":-54,"legendY":39,"direction":"vertical","title":"Log2 FC (EPO/Placebo)","titleOrient":"left","titleAngle":270,"gradientLength":65,"gradientThickness":8,"values":[-2,-1,0,1,2],"labelExpr":"'' + datum.value","labelOverlap":false,"labelFontSize":11,"titleFontSize":10,"titleFontWeight":"normal","strokeColor":"#999","padding":5,"fillColor":"white"}}}},
{"data":{"values":[{"g":"Bcl11b/Ctip2"}]},"mark":{"type":"rule","color":"white","strokeWidth":3},"encoding":{"x":null,"y":{"field":"g","type":"nominal","bandPosition":0}}},
{"data":{"values":[{"g":"Bcl11b/Ctip2"}]},"mark":{"type":"rule","color":"#9a9a9a","strokeWidth":1},"encoding":{"x":null,"y":{"field":"g","type":"nominal","bandPosition":0},"yOffset":{"value":-2}}},
{"data":{"values":[{"g":"Bcl11b/Ctip2"}]},"mark":{"type":"rule","color":"#9a9a9a","strokeWidth":1},"encoding":{"x":null,"y":{"field":"g","type":"nominal","bandPosition":0},"yOffset":{"value":2}}},
{"transform":[{"filter":"datum.p"}],"mark":{"type":"text","text":"***","fontSize":9,"dy":3},
 "encoding":{"fill":{"condition":{"test":"abs(datum.v) > 0.9","value":"white"},"value":"#111"}}},
{"transform":[{"filter":"datum.p"}],"mark":{"type":"point","opacity":0},
 "encoding":{"shape":{"field":"p","type":"nominal","legend":{"orient":"none","legendX":-54,"legendY":128,"direction":"vertical","title":"adj.p.value","titleFontSize":10.5,"titleFontWeight":"normal","labelFontSize":10,"symbolOpacity":0,"symbolSize":0,"strokeColor":"#999","padding":6,"titlePadding":9,"labelOffset":0,"fillColor":"white"}}}},
{"data":{"values":[{"t":"a"}]},"mark":{"type":"text","align":"left","baseline":"alphabetic","fontSize":18,"color":"#111"},
 "encoding":{"x":{"datum":"Nf.M.F.Ser","type":"nominal","bandPosition":-2.8},"y":{"datum":"Calb1","type":"nominal","bandPosition":0.78},"text":{"field":"t"}}}
]
},
{
"width":253,"height":279,
"encoding":{
"x":{"field":"x","type":"quantitative","scale":{"domain":[0.32,12.58],"nice":false,"zero":false},"axis":null},
"y":{"field":"y","type":"quantitative","scale":{"domain":[-0.00107,0.04164],"nice":false,"zero":false},"axis":{"title":"correlation distance","values":[0,0.01,0.02,0.03,0.04],"format":"~g","labelFontSize":10.5,"titleFontSize":10.5,"titleFontWeight":"normal","tickColor":"#888","domainColor":"#999","tickSize":5,"labelPadding":2,"grid":false,"titlePadding":8,"labelColor":"#222","titleColor":"#222"}}
},
"layer":[
{"data":{"name":"pv"},"mark":{"type":"rect","fillOpacity":0,"stroke":"#dfe5f1","strokeWidth":1},"encoding":{"x2":{"field":"x2"},"y2":{"field":"y2"}}},
{"data":{"name":"segs"},"mark":{"type":"rule","color":"#2e2e80","strokeWidth":1.6},"encoding":{"x2":{"field":"x2"},"y2":{"field":"y2"}}},
{"data":{"name":"leaves"},"mark":{"type":"point","filled":true,"shape":"M-1,-0.84L1,-0.84L1,0.84L-1,0.84Z","size":361,"stroke":"#666","strokeWidth":1,"opacity":1},
 "encoding":{"fill":{"field":"grp","type":"nominal","scale":{"domain":["Placebo","EPO"],"range":["#3f8ff0","#e8400e"]},
 "legend":{"orient":"none","legendX":94,"legendY":16,"direction":"horizontal","title":null,"strokeColor":"#999","fillColor":"white","padding":3,"symbolType":"M-1,-0.55L1,-0.55L1,0.55L-1,0.55Z","symbolSize":400,"symbolStrokeColor":"#555","symbolStrokeWidth":1,"labelFontSize":10.5,"labelFontWeight":"bold","labelOffset":3,"columnPadding":18}}}},
{"data":{"name":"leaves"},"mark":{"type":"text","angle":-90,"align":"right","baseline":"middle","dx":-11,"fontSize":10.5,"color":"#111"},"encoding":{"text":{"field":"leaf"}}},
{"data":{"name":"nodes"},"mark":{"type":"text","align":"right","baseline":"bottom","dx":-2,"dy":-2,"fontSize":7,"color":"#f0708a"},"encoding":{"text":{"field":"au"}}},
{"data":{"name":"nodes"},"mark":{"type":"text","align":"left","baseline":"bottom","dx":2,"dy":-2,"fontSize":7,"color":"#5cc05c"},"encoding":{"text":{"field":"bp"}}},
{"data":{"name":"nodes"},"mark":{"type":"text","align":"center","baseline":"top","dy":2,"fontSize":7,"color":"#a0a0a0"},"encoding":{"text":{"field":"e"}}},
{"data":{"values":[{"t":"b","x":-1.86,"y":0.03873}]},"mark":{"type":"text","align":"left","baseline":"alphabetic","fontSize":16,"color":"#111"},"encoding":{"text":{"field":"t"}}}
]
},
{
"width":198,"height":228,
"encoding":{
"x":{"field":"name","type":"nominal","scale":{"domain":["Nf.M.F.Ser","Nf.M.S","Nf.M.S.Sox5","Nf.M.V","CA1 (S)","CA1 (D)"],"paddingInner":0,"paddingOuter":0.85,"align":0},"axis":{"title":null,"labelAngle":-50,"labelAlign":"right","labelBaseline":"middle","ticks":false,"domain":false,"labelFontSize":10,"labelPadding":4,"labelColor":"#222"}},
"y":{"field":"r","type":"ordinal","scale":{"domain":["a1","a2","a3","a4","a5","a6","a7","a8","a9","b01","b02","b03","b04","b05","b06","b07","b08","b09","b10","b11","b12","b13","b14","b15","b16","b17","b18","b19","b20","b21","b22","b23","b24","b25","b26","b27","b28","b29","b30","b31","b32","b33","b34","b35","b36","b37","b38","b39","b40","b41","b42","b43","b44","b45","b46","b47","b48","b49","b50","b51","b52","b53","b54","b55","b56","b57","b58","b59","b60","b61","b62","b63","b64","b65","b66","b67","b68","b69","b70","b71","b72","b73","b74","b75","b76","b77","b78","b79","b80","b81","b82","b83"],"paddingInner":0,"paddingOuter":0},"axis":null}
},
"layer":[
{"data":{"name":"cols"},"mark":{"type":"rect","fill":"white","stroke":"#999","strokeWidth":1},"encoding":{"y":{"datum":"a1","type":"ordinal","bandPosition":0},"y2":{"datum":"b01","bandPosition":0}}},
{"data":{"name":"cols"},"mark":{"type":"text","fontSize":10.5,"color":"#111"},"encoding":{"y":{"datum":"a5","type":"ordinal","bandPosition":0.5},"text":{"field":"deg"}}},
{"data":{"values":[{"t":"DEG, N"}]},"mark":{"type":"text","fontSize":10.5,"align":"left","color":"#111"},"encoding":{"x":{"datum":"CA1 (D)","type":"nominal","bandPosition":1.15},"y":{"datum":"a5","type":"ordinal","bandPosition":0.5},"text":{"field":"t"}}},
{"data":{"values":[{"t":"c"}]},"mark":{"type":"text","fontSize":14,"align":"left","baseline":"alphabetic","color":"#111"},"encoding":{"x":{"datum":"Nf.M.F.Ser","type":"nominal","bandPosition":-2.8},"y":{"datum":"a1","type":"ordinal","bandPosition":-2.42},"text":{"field":"t"}}},
{"data":{"name":"cells"},"transform":[{"lookup":"c","from":{"data":{"name":"cols"},"key":"k","fields":["name"]}}],"mark":{"type":"rect"},
 "encoding":{"color":{"field":"v","type":"quantitative","scale":{"domain":[-2,-1,0,1,2],"range":["#0a0aff","#a040f0","#f1eaee","#ff3020","#8b0000"],"clamp":true},
 "legend":{"orient":"none","legendX":169,"legendY":223,"direction":"horizontal","title":"Log2 FC (EPO/Placebo)","gradientLength":67,"gradientThickness":12,"values":[-2,-1,0,1,2],"labelExpr":"'' + datum.value","labelOverlap":false,"labelFontSize":10.5,"titleFontSize":10.5,"titleFontWeight":"normal","strokeColor":"#999","padding":6,"fillColor":"white"}}}},
{"data":{"name":"outl"},"transform":[{"lookup":"c","from":{"data":{"name":"cols"},"key":"k","fields":["name"]}}],"mark":{"type":"rect","fillOpacity":0,"stroke":"#999","strokeWidth":1},"encoding":{"y":{"field":"r","type":"ordinal","bandPosition":0},"y2":{"field":"r2","bandPosition":0}}},
{"data":{"values":[{"r":"b01"},{"r":"b23"},{"r":"b48"},{"r":"b77"}]},"mark":{"type":"rule","color":"#aaa","strokeWidth":1},"encoding":{"x":{"datum":"CA1 (D)","type":"nominal","bandPosition":1.03},"x2":{"datum":"CA1 (D)","bandPosition":4.97},"y":{"field":"r","type":"ordinal","bandPosition":0}}},
{"data":{"values":[{"r":"b01","r2":"b23"},{"r":"b48","r2":"b77"}]},"mark":{"type":"rule","color":"#aaa","strokeWidth":1},"encoding":{"x":{"datum":"CA1 (D)","type":"nominal","bandPosition":1.12},"y":{"field":"r","type":"ordinal","bandPosition":0},"y2":{"field":"r2","bandPosition":0}}},
{"data":{"name":"ann"},"transform":[{"filter":"datum.k == 'up'"}],"mark":{"type":"text","align":"left","fontSize":10.5,"fontStyle":"italic","color":"#ee2f2a"},"encoding":{"x":{"datum":"CA1 (D)","type":"nominal","bandPosition":1.5},"y":{"field":"r","type":"ordinal","bandPosition":0.5},"text":{"field":"t"}}},
{"data":{"name":"ann"},"transform":[{"filter":"datum.k == 'go'"}],"mark":{"type":"text","align":"left","fontSize":10.5,"fontStyle":"italic","fontWeight":"bold","color":"#111"},"encoding":{"x":{"datum":"CA1 (D)","type":"nominal","bandPosition":1.5},"y":{"field":"r","type":"ordinal","bandPosition":0.5},"text":{"field":"t"}}},
{"data":{"name":"ann"},"transform":[{"filter":"datum.k == 'term'"}],"mark":{"type":"text","align":"left","fontSize":10.5,"color":"#111"},"encoding":{"x":{"datum":"CA1 (D)","type":"nominal","bandPosition":1.5},"y":{"field":"r","type":"ordinal","bandPosition":0.5},"text":{"field":"t"}}},
{"data":{"name":"ann"},"transform":[{"filter":"datum.k == 'down'"}],"mark":{"type":"text","align":"left","fontSize":10.5,"fontStyle":"italic","color":"#3a3ef0"},"encoding":{"x":{"datum":"CA1 (D)","type":"nominal","bandPosition":1.5},"y":{"field":"r","type":"ordinal","bandPosition":0.5},"text":{"field":"t"}}}
]
},
{
"width":212,"height":221,
"encoding":{
"x":{"field":"col","type":"nominal","scale":{"domain":["CA1 (S)","CA1 (D)","Nf.M.V","Nf.M.S.Sox5","Nf.M.F.Ser","Nf.M.S"],"paddingInner":0,"paddingOuter":0.786,"align":1},"axis":{"title":"Spearman's correlation of LogFC (EPO vs Placebo)","labels":false,"ticks":false,"domain":false,"titlePadding":19,"titleFontSize":10,"titleFontWeight":"normal","titleColor":"#222","titleX":128,"titleAlign":"center"}},
"y":{"field":"row","type":"nominal","scale":{"domain":["CA1 (S)","CA1 (D)","Nf.M.V","Nf.M.S.Sox5","Nf.M.F.Ser","Nf.M.S"],"paddingInner":0,"paddingOuter":0.946,"align":1},"axis":{"title":null,"ticks":false,"domain":false,"labelFontSize":10,"labelPadding":5,"labelColor":"#333","offset":-44}}
},
"layer":[
{"data":{"name":"corr"},"mark":{"type":"rect","fill":"#eceff1","stroke":"white","strokeWidth":1.5}},
{"data":{"name":"corr"},"mark":{"type":"circle","opacity":1},"encoding":{"size":{"field":"r","type":"quantitative","scale":{"domain":[0,1],"range":[0,720]},"legend":null},
 "color":{"field":"r","type":"quantitative","scale":{"domain":[-1,-0.001,0.001,1],"range":["#f7d52a","#f7d52a","#cc4f80","#cc4f80"]},
 "legend":{"orient":"none","legendX":44,"legendY":223,"direction":"horizontal","gradientLength":168,"gradientThickness":6,"title":null,"values":[-1,0,1],"labelExpr":"'' + datum.value","labelFontSize":5,"labelColor":"#888","labelOffset":2,"padding":0,"gradientStrokeColor":"#999"}}}},
{"data":{"name":"corr"},"mark":{"type":"text","fontSize":10,"color":"#111"},"encoding":{"text":{"field":"r","type":"quantitative","format":".2f"}}},
{"data":{"name":"corr"},"mark":{"type":"text","text":"***","fontSize":7,"dy":10,"color":"#222"}},
{"data":{"name":"dnames"},"mark":{"type":"text","angle":-45,"align":"left","baseline":"alphabetic","fontSize":10,"color":"#222"},"encoding":{"x":{"field":"col","type":"nominal","bandPosition":0.3},"y":{"field":"row","type":"nominal","bandPosition":0},"text":{"field":"col"}}},
{"data":{"values":[{"t":"*** corrtest, p-value < 0.01"}]},"mark":{"type":"text","align":"left","fontSize":9,"color":"#222"},"encoding":{"x":{"datum":"Nf.M.V","type":"nominal","bandPosition":0.71},"y":{"datum":"CA1 (S)","type":"nominal","bandPosition":-0.32},"text":{"field":"t"}}},
{"data":{"values":[{"t":"d"}]},"mark":{"type":"text","align":"left","baseline":"alphabetic","fontSize":18,"color":"#111"},"encoding":{"x":{"datum":"CA1 (S)","type":"nominal","bandPosition":-3.21},"y":{"datum":"CA1 (S)","type":"nominal","bandPosition":-0.536},"text":{"field":"t"}}}
]
}
]
}
